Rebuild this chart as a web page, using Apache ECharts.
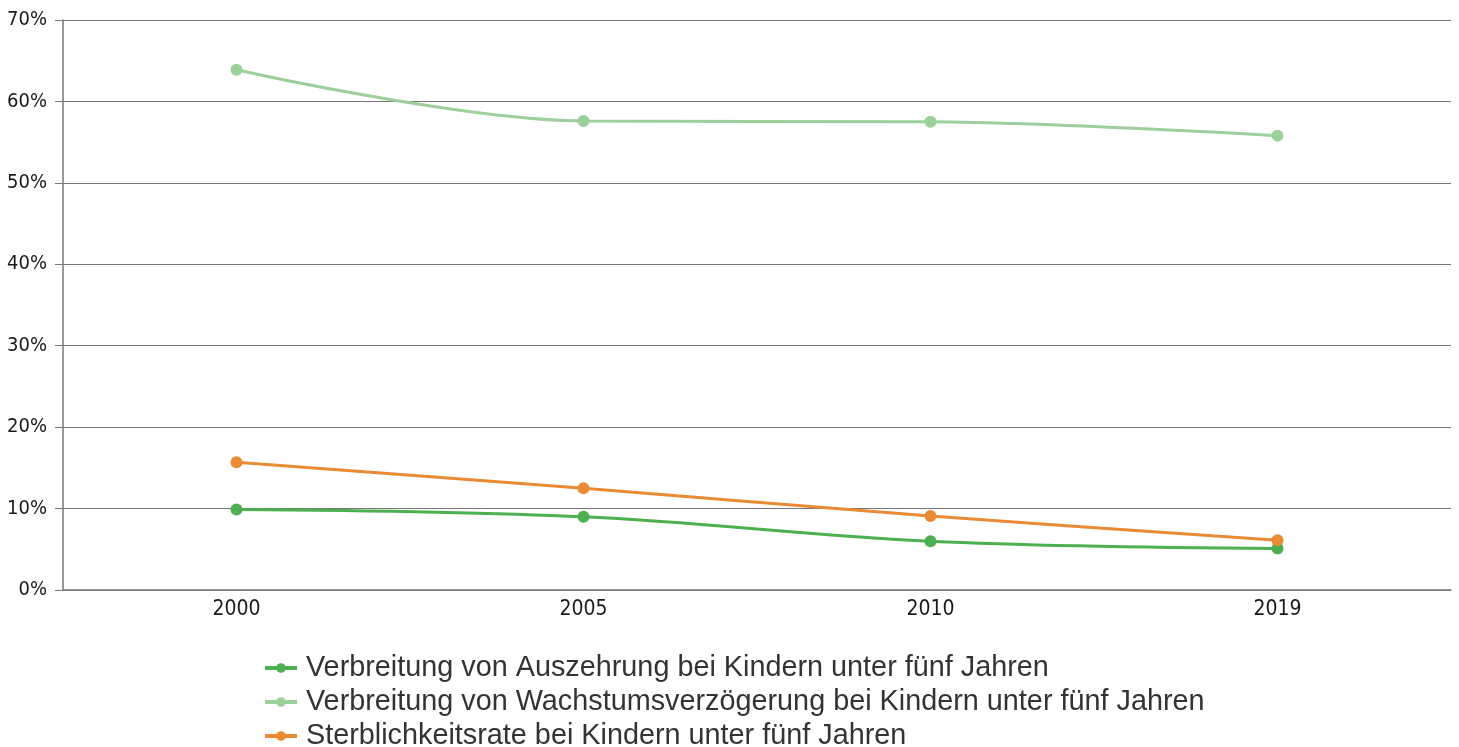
<!DOCTYPE html>
<html><head><meta charset="utf-8">
<script src="https://cdn.jsdelivr.net/npm/echarts@6/dist/echarts.min.js"></script>
<style>html,body{margin:0;padding:0;background:#fff}#c{width:1459px;height:747px}</style>
</head><body><div id="c"></div>
<script>
const categories = ['2000', '2005', '2010', '2019'];
const wasting = [9.9, 9.0, 6.0, 5.1];
const stunting = [63.9, 57.6, 57.5, 55.8];
const mortality = [15.7, 12.5, 9.1, 6.1];
const yTicks = [0, 10, 20, 30, 40, 50, 60, 70];
const names = [
  'Verbreitung von Auszehrung bei Kindern unter fünf Jahren',
  'Verbreitung von Wachstumsverzögerung bei Kindern unter fünf Jahren',
  'Sterblichkeitsrate bei Kindern unter fünf Jahren'
];
const colors = ['#4caf50', '#9ccf9a', '#ea8a33'];
const chart = echarts.init(document.getElementById('c'));
const mk = (name, data, color) => ({
  name, type: 'line', data, smooth: 0.35, symbol: 'circle', symbolSize: 12,
  lineStyle: { width: 3, color }, itemStyle: { color }, color
});
chart.setOption({
  animation: false,
  grid: { left: 63, right: 8, top: 20, bottom: 157, containLabel: false },
  legend: {
    orient: 'vertical', left: 263, top: 653, padding: 0, height: 140, itemGap: 4, itemWidth: 32, itemHeight: 12,
    textStyle: { fontFamily: 'Liberation Sans', fontSize: 28.8, lineHeight: 30, color: '#333', padding: [0, 0, 0, 4] },
    data: names.map((n, i) => ({ name: n, lineStyle: { width: 4, color: colors[i] }, itemStyle: { color: colors[i] } }))
  },
  xAxis: {
    type: 'category', data: categories, boundaryGap: true,
    axisLine: { lineStyle: { color: '#777', width: 1.5 } },
    axisTick: { alignWithLabel: true, length: 6, lineStyle: { color: '#777' } },
    axisLabel: { fontFamily: 'DejaVu Sans Condensed', fontSize: 21, color: '#1a1a1a', margin: 9 }
  },
  yAxis: {
    type: 'value', min: yTicks[0], max: yTicks[yTicks.length - 1], interval: 10,
    axisLine: { show: true, lineStyle: { color: '#777', width: 1.5 } },
    axisTick: { show: true, length: 8, lineStyle: { color: '#777' } },
    splitLine: { lineStyle: { color: '#777', width: 1 } },
    axisLabel: { formatter: v => v + '%', fontFamily: 'DejaVu Sans Condensed', fontSize: 20, color: '#1a1a1a', margin: 16 }
  },
  series: [mk(names[0], wasting, colors[0]), mk(names[1], stunting, colors[1]), mk(names[2], mortality, colors[2])]
});
</script></body></html>
